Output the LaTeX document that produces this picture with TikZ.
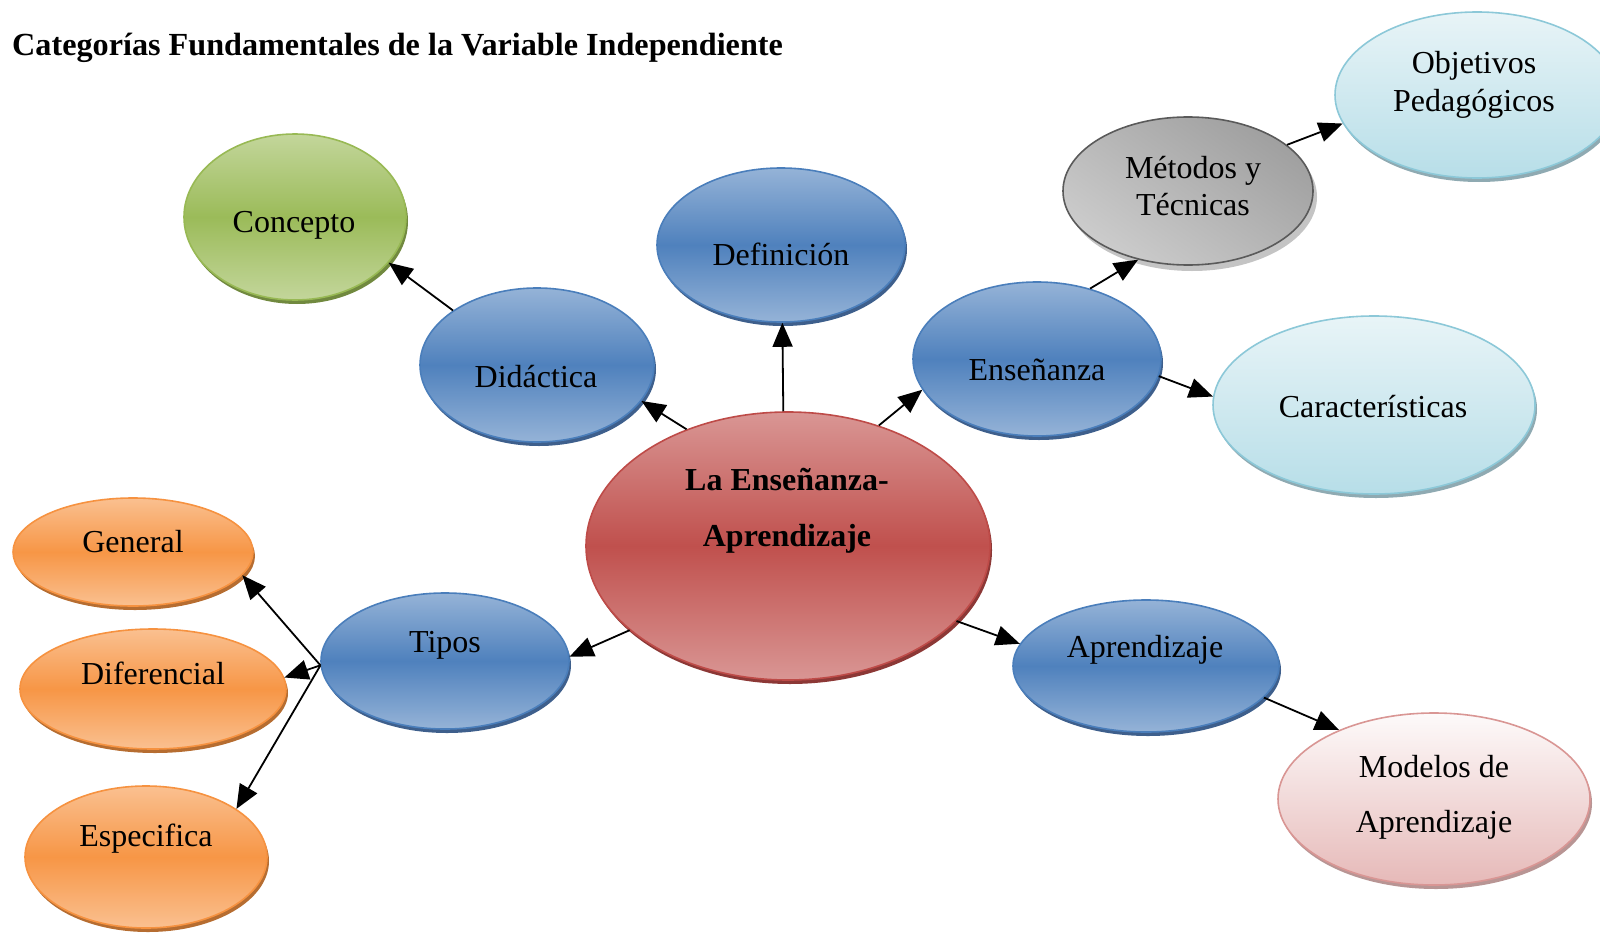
\documentclass[tikz,border=0pt]{standalone}
\usepackage{fontspec}
\setmainfont{Liberation Serif}
\usetikzlibrary{shapes.geometric,arrows.meta,shadows}
\definecolor{bmid}{HTML}{4F81BD}
\definecolor{bedge}{HTML}{95B3D7}
\definecolor{bline}{HTML}{4A7EBB}
\definecolor{bshad}{HTML}{3E5F8C}
\definecolor{gmid}{HTML}{9BBB59}
\definecolor{gedge}{HTML}{C3D69B}
\definecolor{gline}{HTML}{98B954}
\definecolor{gshad}{HTML}{71893F}
\definecolor{rmid}{HTML}{C0504D}
\definecolor{redge}{HTML}{D99694}
\definecolor{rline}{HTML}{BE4B48}
\definecolor{rshad}{HTML}{8C3836}
\definecolor{omid}{HTML}{F79646}
\definecolor{oedge}{HTML}{FAC090}
\definecolor{oline}{HTML}{F69240}
\definecolor{oshad}{HTML}{B66D31}
\definecolor{ctop}{HTML}{E8F4F7}
\definecolor{cbot}{HTML}{B7DEE8}
\definecolor{cline}{HTML}{8CC8D8}
\definecolor{cshad}{HTML}{8FAAB2}
\definecolor{ptop}{HTML}{FDFAFA}
\definecolor{pbot}{HTML}{E6B9B8}
\definecolor{pline}{HTML}{D99694}
\definecolor{pshad}{HTML}{B89594}
\definecolor{kline}{HTML}{5A5A5A}
\definecolor{kshad}{HTML}{C4C4C4}
\begin{document}
\begin{tikzpicture}[x=1pt,y=-1pt,
  ell/.style={ellipse, inner sep=0pt, line width=1.6pt},
  blueell/.style={ell, draw=bline, top color=bedge, bottom color=bedge, middle color=bmid,
     general shadow={shadow xshift=2pt, shadow yshift=-4pt, fill=bshad}},
  greenell/.style={ell, draw=gline, top color=gedge, bottom color=gedge, middle color=gmid,
     general shadow={shadow xshift=2pt, shadow yshift=-4pt, fill=gshad}},
  redell/.style={ell, draw=rline, top color=redge, bottom color=redge, middle color=rmid,
     general shadow={shadow xshift=2pt, shadow yshift=-4pt, fill=rshad}},
  orangeell/.style={ell, draw=oline, top color=oedge, bottom color=oedge, middle color=omid,
     general shadow={shadow xshift=2pt, shadow yshift=-4pt, fill=oshad}},
  cyanell/.style={ell, draw=cline, top color=ctop, bottom color=cbot,
     general shadow={shadow xshift=2pt, shadow yshift=-4pt, fill=cshad}},
  pinkell/.style={ell, draw=pline, top color=ptop, bottom color=pbot,
     general shadow={shadow xshift=2pt, shadow yshift=-4pt, fill=pshad}},
  grayell/.style={ell, draw=kline, shading=axis, top color=gray!75, bottom color=gray!40, shading angle=-35,
     general shadow={shadow xshift=4pt, shadow yshift=-6pt, fill=kshad}},
  txt/.style={anchor=base, inner sep=0pt, font=\fontsize{32}{38}\selectfont},
  btxt/.style={anchor=base, inner sep=0pt, font=\fontsize{32}{38}\selectfont\bfseries},
  arr/.style={line width=1.8pt, -{Triangle[length=24pt,width=20pt]}}
]
\useasboundingbox (0,0) rectangle (1600,934);

\node[anchor=base west, inner sep=0pt, font=\fontsize{32.2}{38}\selectfont\bfseries] (title) at (12,56)
  {Categorías Fundamentales de la Variable Independiente};

% ellipses
\node[greenell, minimum width=222pt, minimum height=166pt] (con) at (295,217) {};
\node[blueell, minimum width=234pt, minimum height=154pt] (did) at (537,365) {};
\node[blueell, minimum width=248pt, minimum height=154pt] (def) at (781,245) {};
\node[blueell, minimum width=248pt, minimum height=154pt] (ens) at (1037,359) {};
\node[grayell, minimum width=250pt, minimum height=148pt] (met) at (1188,191) {};
\node[cyanell, minimum width=284pt, minimum height=166pt] (obj) at (1477,95) {};
\node[cyanell, minimum width=322pt, minimum height=178pt] (car) at (1374,405) {};
\node[redell, minimum width=404pt, minimum height=268pt] (cen) at (788,546) {};
\node[blueell, minimum width=248pt, minimum height=136pt] (tip) at (445,661) {};
\node[orangeell, minimum width=240pt, minimum height=108pt] (gen) at (133,552) {};
\node[orangeell, minimum width=266pt, minimum height=120pt] (dif) at (153,689) {};
\node[orangeell, minimum width=242pt, minimum height=142pt] (esp) at (146,857) {};
\node[blueell, minimum width=266pt, minimum height=132pt] (apr) at (1146,666) {};
\node[pinkell, minimum width=312pt, minimum height=172pt] (mod) at (1434,799) {};

% texts
\node[txt] (tcon) at (294,232) {Concepto};
\node[txt] (tdid) at (536,387) {Didáctica};
\node[txt] (tdef) at (781,265) {Definición};
\node[txt] (tens) at (1037,380) {Enseñanza};
\node[txt] (tmet1) at (1193,178) {Métodos y};
\node[txt] (tmet2) at (1193,215) {Técnicas};
\node[txt] (tobj1) at (1474,74) {Objetivos};
\node[txt] (tobj2) at (1474,111) {Pedagógicos};
\node[txt] (tcar) at (1373,417) {Características};
\node[btxt] (tcen1) at (787,490) {La Enseñanza-};
\node[btxt] (tcen2) at (787,546) {Aprendizaje};
\node[txt] (ttip) at (445,652) {Tipos};
\node[txt] (tgen) at (133,552) {General};
\node[txt] (tdif) at (153,684) {Diferencial};
\node[txt] (tesp) at (146,846) {Especifica};
\node[txt] (tapr) at (1145,657) {Aprendizaje};
\node[txt] (tmod1) at (1434,777) {Modelos de};
\node[txt] (tmod2) at (1434,832) {Aprendizaje};

% connectors
\draw[arr] (did.147) -- (con.-26);
\draw[arr] (cen.131) -- (did.-19);
\draw[arr] (cen.92) -- (def.-89);
\draw[arr] (cen.53) -- (ens.195);
\draw[arr] (ens.53) -- (met.234);
\draw[arr] (met.25) -- (obj.192);
\draw[arr] (ens.-8) -- (car.177);
\draw[arr] (cen.208) -- (tip.2);
\draw[arr] (cen.-24) -- (apr.170);
\draw[arr] (apr.-15) -- (mod.144);
\draw[arr] (tip.182) -- (gen.-12);
\draw[arr] (tip.182) -- (dif.5);
\draw[arr] (tip.182) -- (esp.28);
\end{tikzpicture}
\end{document}
